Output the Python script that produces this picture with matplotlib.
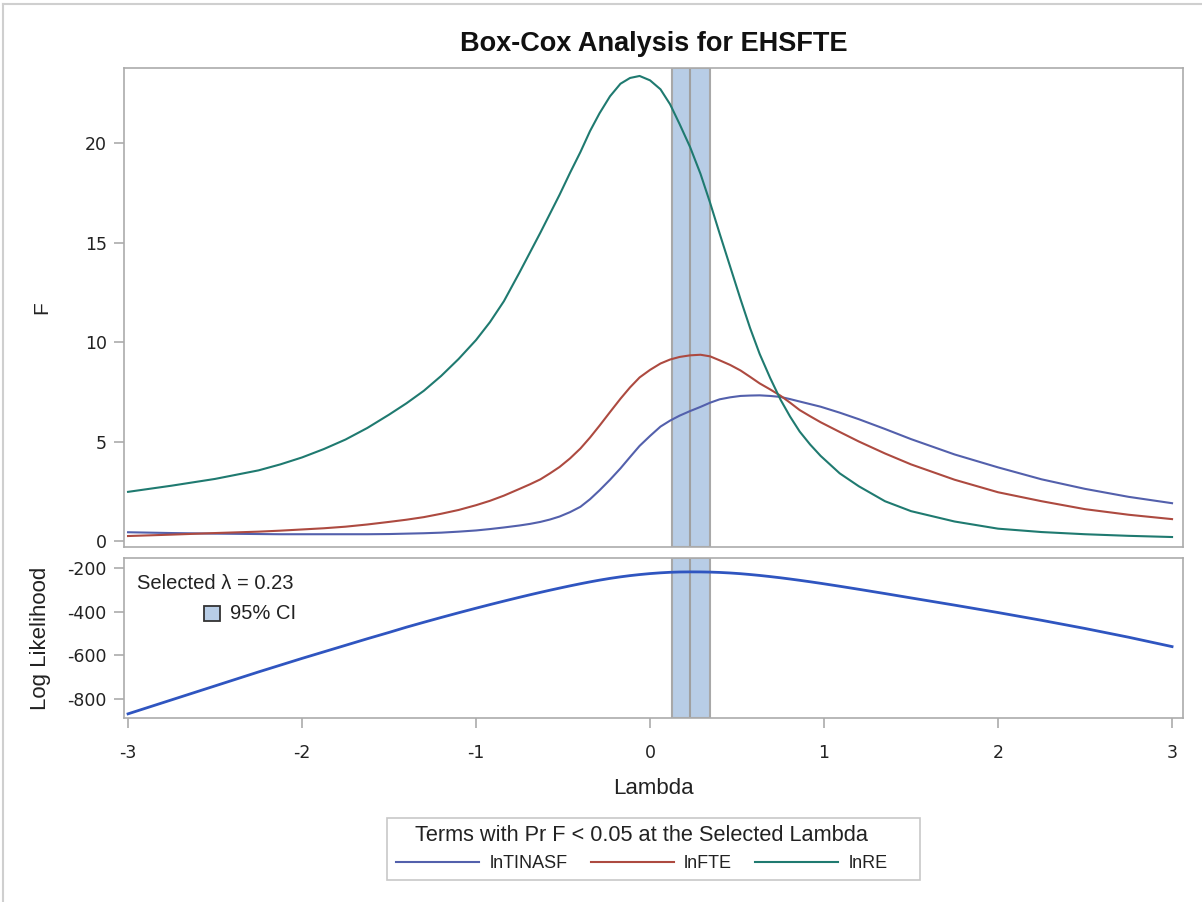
import matplotlib
matplotlib.use("Agg")
import matplotlib.pyplot as plt
from matplotlib.patches import Rectangle
from matplotlib.lines import Line2D

plt.rcParams['font.family'] = ['Liberation Sans', 'DejaVu Sans']
plt.rcParams['axes.unicode_minus'] = False

# Box-Cox profile: F statistics per term and log likelihood over lambda
lam = [-3.0, -2.75, -2.5, -2.25, -2.125, -2.0, -1.875, -1.75, -1.625, -1.5, -1.4, -1.3,
       -1.2, -1.1, -1.0, -0.92, -0.84, -0.75, -0.69,
       -0.63, -0.575, -0.52, -0.46, -0.4, -0.345, -0.29, -0.23, -0.17, -0.115, -0.06, 0.0,
       0.06, 0.115, 0.17, 0.23, 0.29, 0.345, 0.4, 0.46, 0.52, 0.575, 0.63, 0.69, 0.75,
       0.805, 0.86, 0.92, 0.98, 1.09, 1.2, 1.35, 1.5, 1.75, 2.0, 2.25, 2.5, 2.75, 3.0]
f_tinasf = [0.44, 0.40, 0.37, 0.35, 0.34, 0.34, 0.34, 0.34, 0.34, 0.35, 0.37, 0.39,
            0.42, 0.47, 0.53, 0.60, 0.68, 0.78, 0.86,
            0.96, 1.08, 1.23, 1.45, 1.72, 2.10, 2.55, 3.08, 3.65, 4.22, 4.78, 5.28,
            5.75, 6.05, 6.30, 6.53, 6.74, 6.95, 7.12, 7.22, 7.29, 7.31, 7.32, 7.29, 7.24,
            7.13, 7.01, 6.88, 6.75, 6.45, 6.12, 5.63, 5.12, 4.35, 3.70, 3.10, 2.62, 2.22, 1.90]
f_fte = [0.25, 0.32, 0.40, 0.47, 0.52, 0.58, 0.64, 0.72, 0.83, 0.96, 1.07, 1.20,
         1.37, 1.56, 1.80, 2.02, 2.28, 2.62, 2.85,
         3.10, 3.40, 3.72, 4.15, 4.65, 5.20, 5.80, 6.48, 7.15, 7.72, 8.22, 8.60,
         8.92, 9.12, 9.25, 9.33, 9.36, 9.28, 9.08, 8.85, 8.57, 8.25, 7.92, 7.62, 7.30,
         6.95, 6.58, 6.27, 5.97, 5.48, 5.00, 4.40, 3.85, 3.08, 2.45, 2.00, 1.60, 1.32, 1.10]
f_re = [2.47, 2.78, 3.12, 3.55, 3.85, 4.20, 4.62, 5.10, 5.68, 6.35, 6.92, 7.55,
        8.30, 9.15, 10.1, 11.0, 12.05, 13.5, 14.5,
        15.5, 16.45, 17.4, 18.5, 19.55, 20.6, 21.5, 22.35, 22.98, 23.27, 23.37, 23.15,
        22.7, 21.95, 20.95, 19.8, 18.45, 17.0, 15.45, 13.8, 12.15, 10.7, 9.4, 8.2, 7.1,
        6.25, 5.5, 4.85, 4.28, 3.4, 2.75, 2.0, 1.5, 0.98, 0.62, 0.45, 0.34, 0.26, 0.20]
loglik = [-868, -804, -740, -676, -645, -614, -584, -554, -524, -495, -471, -448.5,
          -426.5, -405, -384, -367.6, -351.6, -334, -322.6,
          -311.5, -301.6, -292, -281.8, -272, -263.5, -255.5, -247.5, -240.5, -234.8, -230, -225.5,
          -222, -219.6, -218.2, -217.7, -217.9, -218.7, -220.2, -222.7, -226, -229.8, -234, -239.2,
          -244.8, -250.4, -256.3, -263, -270, -283.5, -297.5, -317, -337, -370, -404, -439.5,
          -477, -517, -560]

terms = ['lnTINASF', 'lnFTE', 'lnRE']
colors = ['#5360AC', '#AD4A40', '#1F7A70']
lam_sel = 0.23
ci_low, ci_high = 0.128, 0.345

frame = '#ABABAB'
band_fill = '#B8CDE6'
txt = '#222222'

fig = plt.figure(figsize=(12.02, 9.02), dpi=100)
ax1 = fig.add_axes([0.1032, 0.3936, 0.881, 0.531])
ax2 = fig.add_axes([0.1032, 0.204, 0.881, 0.1774], sharex=ax1)

# outer frame of the graph area
fig.add_artist(Line2D([0.0025, 0.0025], [0, 0.9956], color='#CFCFCF', lw=1.5))
fig.add_artist(Line2D([0.0025, 1], [0.9956, 0.9956], color='#CFCFCF', lw=1.5))

for ax in (ax1, ax2):
    ax.axvspan(ci_low, ci_high, facecolor=band_fill, edgecolor='#A8A8A8', lw=1.5, zorder=1)
    ax.axvline(lam_sel, color='#A0A0A0', lw=1.5, zorder=1)
    for s in ax.spines.values():
        s.set_color(frame)
        s.set_linewidth(1.2)
    ax.tick_params(colors=frame, labelcolor=txt, length=7.5, width=1.2, pad=5)

series = [f_tinasf, f_fte, f_re]
for vals, c in zip(series, colors):
    ax1.plot(lam, vals, color=c, lw=1.5, zorder=3, solid_joinstyle='round')

ax2.plot(lam, loglik, color='#2F55C0', lw=2, zorder=3, solid_joinstyle='round')

ax1.set_xlim(-3.023, 3.063)
ax1.set_ylim(-0.3, 23.77)
ax1.set_yticks([0, 5, 10, 15, 20])
ax1.tick_params(axis='x', which='both', bottom=False, labelbottom=False)
ax1.set_ylabel('F', fontsize=15, color=txt)
ax1.yaxis.set_label_coords(-0.069, 0.5)

ax2.set_ylim(-887, -154)
ax2.set_yticks([-800, -600, -400, -200])
ax2.set_xticks([-3, -2, -1, 0, 1, 2, 3])
ax2.tick_params(axis='x', pad=11)
for ax in (ax1, ax2):
    for lb in ax.get_xticklabels() + ax.get_yticklabels():
        lb.set_fontfamily('DejaVu Sans')
        lb.set_fontsize(12.5)
ax2.set_xlabel('Lambda', fontsize=16, color=txt)
ax2.xaxis.set_label_coords(0.5, -0.375)
ax2.set_ylabel('Log Likelihood', fontsize=16, color=txt)
ax2.yaxis.set_label_coords(-0.069, 0.5)

fig.text(0.5437, 0.951, 'Box-Cox Analysis for EHSFTE', fontsize=19.5, fontweight='bold',
         color='#111111', ha='center', va='center')

# selected lambda annotation inside the likelihood panel
ax2.text(0.0123, 0.8375, 'Selected \u03bb = %.2f' % lam_sel, transform=ax2.transAxes,
         fontsize=14.5, color=txt, va='center', ha='left')
ax2.add_patch(Rectangle((0.0755, 0.606), 0.0151, 0.094, transform=ax2.transAxes,
                        facecolor=band_fill, edgecolor='#333333', lw=1.3, zorder=5))
ax2.text(0.100, 0.653, '95% CI', transform=ax2.transAxes,
         fontsize=14.5, color=txt, va='center', ha='left')

# legend of significant terms, boxed separately below the plot
fig.add_artist(Rectangle((387 / 1202, 1 - 880 / 902), 533 / 1202, 62 / 902,
                         transform=fig.transFigure, facecolor='white',
                         edgecolor='#C8C8C8', lw=1.2))
handles = [Line2D([], [], color=c, lw=1.5) for c in colors]
leg = fig.legend(handles, terms, loc='center', bbox_to_anchor=(0.534, 0.0588),
                 ncol=3, frameon=False, fontsize=13, handlelength=4.6,
                 columnspacing=1.3, handletextpad=0.55,
                 title='Terms with Pr F < 0.05 at the Selected Lambda', title_fontsize=15.7,
                 borderpad=0.3, labelspacing=0.5)
for t in leg.get_texts():
    t.set_color(txt)
leg.get_title().set_color(txt)

fig.savefig('out.png', dpi=100, facecolor='white')
